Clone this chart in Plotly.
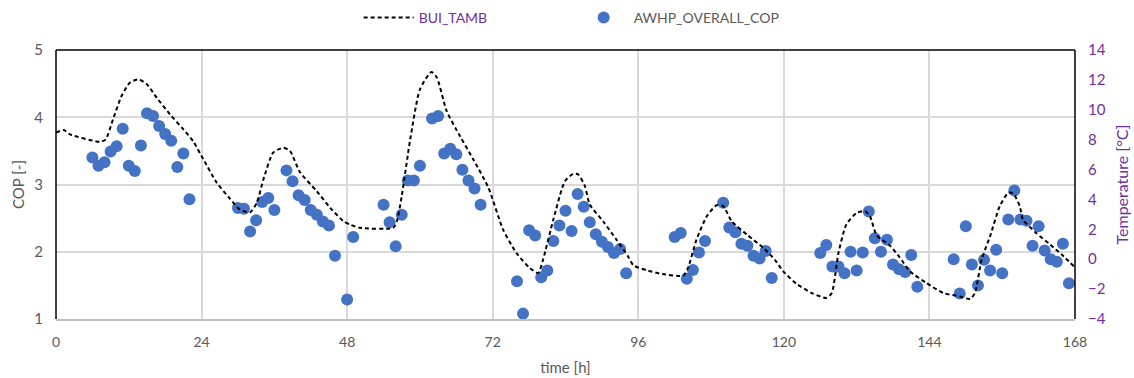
import plotly.graph_objects as go

# Hourly AWHP overall COP samples (time in hours, COP values)
cop_hours = [6, 7, 8, 9, 10, 11, 12, 13, 14, 15, 16, 17, 18, 19, 20, 21, 22,
             30, 31, 32, 33, 34, 35, 36, 38, 39, 40, 41, 42, 43, 44, 45, 46, 48,
             49, 54, 55, 56, 57, 58, 59, 60, 62, 63, 64, 65, 66, 67, 68, 69, 70,
             76, 77, 78, 79, 80, 81, 82, 83, 84, 85, 86, 87, 88, 89, 90, 91, 92, 93, 94,
             102, 103, 104, 105, 106, 107, 110, 111, 112, 113, 114, 115, 116, 117, 118,
             126, 127, 128, 129, 130, 131, 132, 133, 134, 135, 136, 137, 138, 139, 140, 141, 142,
             148, 149, 150, 151, 152, 153, 154, 155, 156, 157, 158, 159, 160, 161, 162, 163,
             164, 165, 166, 167]
cop_values = [3.40, 3.28, 3.33, 3.49, 3.57, 3.83, 3.28, 3.20, 3.58, 4.06, 4.02, 3.87, 3.75, 3.65, 3.26, 3.46, 2.78,
              2.65, 2.64, 2.30, 2.47, 2.74, 2.80, 2.62, 3.21, 3.05, 2.84, 2.77, 2.62, 2.55, 2.45, 2.39, 1.94, 1.29,
              2.22, 2.70, 2.44, 2.08, 2.55, 3.06, 3.06, 3.28, 3.98, 4.02, 3.46, 3.53, 3.45, 3.22, 3.06, 2.94, 2.70,
              1.56, 1.08, 2.32, 2.24, 1.62, 1.72, 2.16, 2.39, 2.61, 2.31, 2.86, 2.67, 2.44, 2.26, 2.15, 2.07, 1.98, 2.04, 1.68,
              2.22, 2.28, 1.60, 1.73, 1.99, 2.16, 2.73, 2.36, 2.29, 2.12, 2.09, 1.94, 1.90, 2.01, 1.61,
              1.98, 2.10, 1.78, 1.78, 1.68, 2.00, 1.72, 1.99, 2.60, 2.20, 2.00, 2.18, 1.81, 1.74, 1.70, 1.95, 1.48,
              1.89, 1.38, 2.38, 1.81, 1.50, 1.88, 1.72, 2.03, 1.68, 2.48, 2.91, 2.48, 2.46, 2.09, 2.38, 2.02,
              1.89, 1.85, 2.12, 1.53]

# Ambient temperature profile (time in hours, temperature in °C)
tamb_hours = [0, 1.3, 2.3, 7.3, 8.2, 9.4, 10.8, 12.2, 13.6, 15.0, 16.6, 18.8, 21.0, 22.6,
              24.3, 26.5, 28.7, 30.3, 32.0, 33.1, 34.2, 35.8, 37.5, 38.6, 40.2, 43.0, 45.2,
              47.4, 48.5, 50.1, 55.6, 56.2, 57.0, 58.4, 60.0, 61.9, 62.8, 64.4, 66.6, 68.8,
              71.3, 73.7, 75.9, 78.1, 79.5, 80.3, 82.0, 83.9, 85.3, 86.1, 87.2, 88.0, 90.2,
              92.4, 94.3, 95.2, 97.6, 99.6, 103.4, 104.2, 105.6, 107.3, 108.9, 110.0, 111.4,
              113.9, 116.6, 118.5, 119.9, 122.1, 124.8, 127.0, 127.9, 129.0, 130.3, 132.0,
              133.4, 134.2, 135.3, 137.5, 139.1, 140.8, 143.5, 146.3, 149.0, 150.7, 151.5,
              152.6, 154.0, 155.6, 157.0, 157.8, 158.9, 159.4, 161.6, 163.9, 166.1, 168.0]
tamb_values = [8.47, 8.64, 8.35, 7.86, 8.02, 9.36, 10.92, 11.82, 12.04, 11.70, 10.81, 9.69, 8.69, 7.90,
               6.68, 5.12, 4.04, 3.33, 3.14, 3.77, 5.34, 7.13, 7.46, 7.23, 5.84, 4.55, 3.44,
               2.54, 2.32, 2.10, 2.10, 2.54, 4.22, 8.02, 11.37, 12.53, 12.15, 9.92, 8.24, 6.68,
               4.78, 1.99, 0.42, -0.58, -0.92, -0.03, 2.66, 5.22, 5.72, 5.67, 4.89, 3.66, 2.54,
               1.31, 0.20, -0.41, -0.76, -0.96, -1.10, -0.58, 1.31, 2.88, 3.61, 3.55, 2.54,
               1.65, 0.76, -0.03, -0.81, -1.65, -2.30, -2.59, -2.26, 0.42, 2.32, 3.10,
               3.21, 2.88, 1.60, 0.91, 0.12, -0.81, -1.59, -2.26, -2.49, -2.66, -2.26,
               -0.03, 1.54, 3.55, 4.45, 4.40, 3.55, 2.66, 1.76, 0.98, 0.20, -0.55]

x_ticks = [0, 24, 48, 72, 96, 120, 144, 168]

PURPLE = "#7030A0"
GREY_TXT = "#595959"
GRID = "#D9D9D9"
FONT = "Lato, 'Open Sans', sans-serif"

fig = go.Figure()

fig.add_trace(go.Scatter(
    x=tamb_hours, y=tamb_values, yaxis="y2",
    mode="lines", name=f'<span style="color:{PURPLE}">BUI_TAMB</span>',
    line=dict(color="black", width=2, dash="4px,3px", shape="spline", smoothing=0.6),
))

fig.add_trace(go.Scatter(
    x=cop_hours, y=cop_values,
    mode="markers", name="AWHP_OVERALL_COP",
    marker=dict(color="#4472C4", size=12),
))

fig.update_layout(
    width=1134, height=378,
    margin=dict(l=56, r=59, t=50, b=59, autoexpand=False),
    paper_bgcolor="white", plot_bgcolor="white",
    font=dict(family=FONT, size=14, color=GREY_TXT),
    showlegend=True,
    legend=dict(orientation="h", x=0.508, xanchor="center", y=0.995, yanchor="top",
                yref="container", entrywidth=150, font=dict(size=14, color=GREY_TXT),
                itemwidth=50),
    xaxis=dict(range=[0, 168], tickvals=x_ticks, ticktext=[str(t) for t in x_ticks],
               showgrid=True, gridcolor=GRID, gridwidth=1.5, zeroline=False,
               showline=True, linecolor="#BFBFBF", linewidth=2, ticks="",
               ticklabelstandoff=9, automargin=False,
               tickfont=dict(size=14, color=GREY_TXT),
               title=dict(text="time [h]", font=dict(size=15, color=GREY_TXT), standoff=14)),
    yaxis=dict(range=[1, 5], dtick=1, showgrid=True, gridcolor=GRID, gridwidth=1.5,
               zeroline=False, showline=False, ticks="", ticklabelstandoff=12,
               automargin=False,
               tickfont=dict(size=15, color=GREY_TXT),
               title=dict(text="COP [-]", font=dict(size=15, color=GREY_TXT), standoff=6)),
    yaxis2=dict(range=[-4, 14], dtick=2, overlaying="y", side="right",
                showgrid=False, zeroline=False, showline=False, ticks="",
                ticklabelstandoff=12, automargin=False,
                tickfont=dict(size=15, color=PURPLE),
                title=dict(text="Temperature [°C]", font=dict(size=16, color=PURPLE), standoff=12)),
    shapes=[
        dict(type="line", xref="paper", yref="paper", x0=0, x1=0, y0=0, y1=1,
             line=dict(color="black", width=1.5)),
        dict(type="line", xref="paper", yref="paper", x0=0, x1=1, y0=1, y1=1,
             line=dict(color="black", width=1.5)),
        dict(type="line", xref="paper", yref="paper", x0=1, x1=1, y0=0, y1=1,
             line=dict(color="black", width=1.5)),
    ],
)

fig.write_html("out.html")
